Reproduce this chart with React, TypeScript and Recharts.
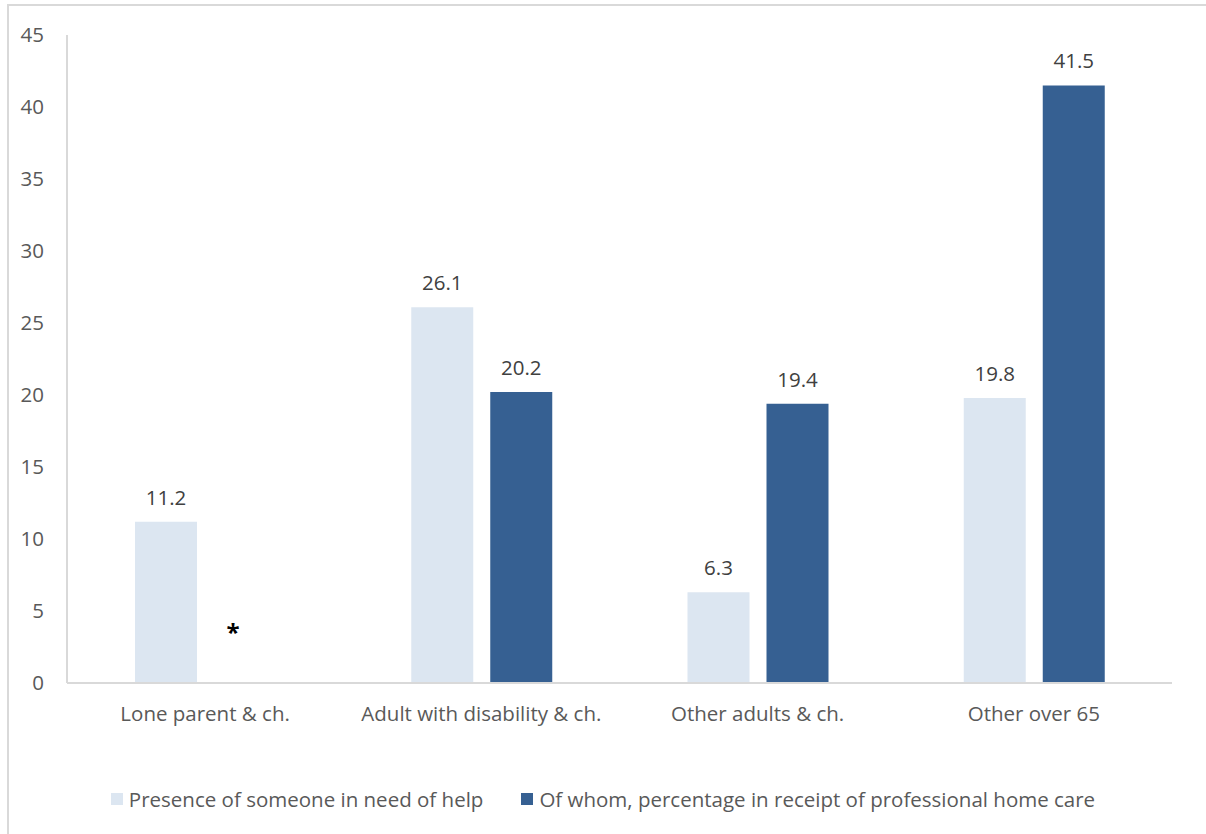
import React from "react";
import { BarChart, Bar, XAxis, YAxis, LabelList } from "recharts";

const categories = [
    "Lone parent & ch.",
    "Adult with disability & ch.",
    "Other adults & ch.",
    "Other over 65",
];
const needHelp = [11.2, 26.1, 6.3, 19.8];
// first value not reported (shown as *)
const homeCare: (number | null)[] = [null, 20.2, 19.4, 41.5];
const yTicks = [0, 5, 10, 15, 20, 25, 30, 35, 40, 45];

const seriesNames = [
    "Presence of someone in need of help",
    "Of whom, percentage in receipt of professional home care",
];
const LIGHT = "#dce6f1";
const DARK = "#366092";
const FONT = "'Open Sans', sans-serif";
const FS = 20.5;
const BAR_GAP = 17;

const chartData = categories.map((c, i) => ({
    name: c,
    needHelp: needHelp[i],
    homeCare: homeCare[i],
}));

function NeedLabel(props: any) {
    const { x, y, width, value } = props;
    const cx = Number(x) + Number(width) / 2;
    const i = needHelp.indexOf(Number(value));
    const base = Number(y) + Number(props.height);
    return (
        <g>
            <text x={cx} y={Number(y) - 17} textAnchor="middle" fontSize={FS} fill="#404040" fontFamily={FONT}>
                {Number(value).toFixed(1)}
            </text>
            {i >= 0 && homeCare[i] === null && (
                <text
                    x={cx + Number(width) + BAR_GAP - 12}
                    y={base - 42}
                    textAnchor="middle"
                    fontSize={24}
                    fontWeight="bold"
                    fill="#000"
                    fontFamily={FONT}
                >
                    *
                </text>
            )}
        </g>
    );
}

function CareLabel(props: any) {
    const { x, y, width, value } = props;
    if (value == null) return null;
    const cx = Number(x) + Number(width) / 2;
    return (
        <text x={cx} y={Number(y) - 17} textAnchor="middle" fontSize={FS} fill="#404040" fontFamily={FONT}>
            {Number(value).toFixed(1)}
        </text>
    );
}

export default function App() {
    return (
        <div style={{ position: "absolute", left: 0, top: 0, width: 1206, height: 834, background: "#fff", overflow: "hidden" }}>
            <div
                style={{
                    position: "absolute",
                    left: 7,
                    top: 4,
                    width: 1300,
                    height: 900,
                    borderLeft: "2px solid #d9d9d9",
                    borderTop: "2px solid #d9d9d9",
                }}
            />
            <div style={{ position: "absolute", left: 0, top: 0 }}>
                <BarChart
                    width={1206}
                    height={834}
                    data={chartData}
                    margin={{ top: 35, right: 34, left: 0, bottom: 111 }}
                    barGap={BAR_GAP}
                    barSize={62}
                >
                    <XAxis
                        dataKey="name"
                        height={40}
                        axisLine={{ stroke: "#d9d9d9", strokeWidth: 2 }}
                        tickLine={false}
                        tickSize={0}
                        tickMargin={23}
                        tick={{ fontSize: FS, fill: "#595959", fontFamily: FONT }}
                    />
                    <YAxis
                        width={67}
                        domain={[0, 45]}
                        ticks={yTicks}
                        interval={0}
                        axisLine={{ stroke: "#d9d9d9", strokeWidth: 2 }}
                        tickLine={false}
                        tickSize={0}
                        tickMargin={23}
                        tick={{ fontSize: FS, fill: "#595959", fontFamily: FONT }}
                    />
                    <Bar dataKey="needHelp" fill={LIGHT} isAnimationActive={false}>
                        <LabelList dataKey="needHelp" content={(p: any) => <NeedLabel {...p} />} />
                    </Bar>
                    <Bar dataKey="homeCare" fill={DARK} isAnimationActive={false}>
                        <LabelList dataKey="homeCare" content={(p: any) => <CareLabel {...p} />} />
                    </Bar>
                </BarChart>
            </div>
            <div
                style={{
                    position: "absolute",
                    left: 0,
                    top: 785,
                    width: 1206,
                    display: "flex",
                    justifyContent: "center",
                    alignItems: "center",
                    gap: 38,
                    fontFamily: FONT,
                    fontSize: FS,
                    color: "#595959",
                }}
            >
                {seriesNames.map((n, i) => (
                    <div key={n} style={{ display: "flex", alignItems: "center", gap: 6 }}>
                        <span style={{ display: "inline-block", width: 12, height: 12, background: i === 0 ? LIGHT : DARK }} />
                        <span>{n}</span>
                    </div>
                ))}
            </div>
        </div>
    );
}
